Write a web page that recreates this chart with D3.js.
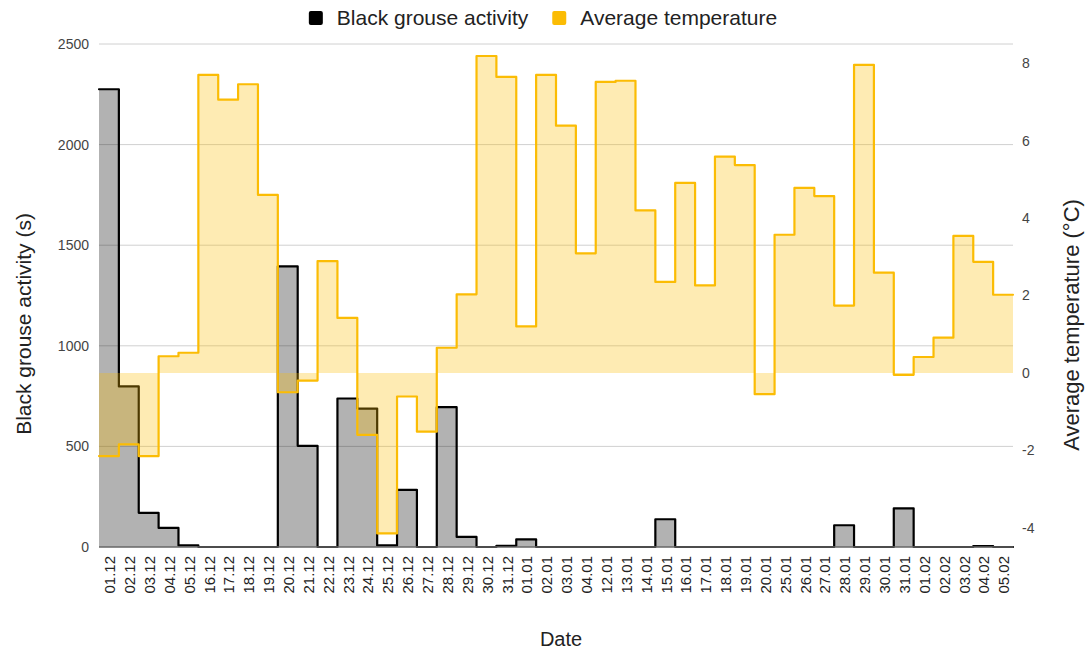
<!DOCTYPE html>
<html>
<head>
<meta charset="utf-8">
<script src="https://cdn.jsdelivr.net/npm/d3@7"></script>
<style>
  html, body { margin: 0; padding: 0; background: #fff; }
  svg { display: block; font-family: "Liberation Sans", Arial, Helvetica, sans-serif; }
</style>
</head>
<body>
<svg id="chart" width="1086" height="650"></svg>
<script>
// Sampling days (gaps in the record are simply skipped)
const dates = ['01.12','02.12','03.12','04.12','05.12','16.12','17.12','18.12','19.12','20.12',
  '21.12','22.12','23.12','24.12','25.12','26.12','27.12','28.12','29.12','30.12','31.12',
  '01.01','02.01','03.01','04.01','12.01','13.01','14.01','15.01','16.01','17.01','18.01',
  '19.01','20.01','25.01','26.01','27.01','28.01','29.01','30.01','31.01',
  '01.02','02.02','03.02','04.02','05.02'];

// Black grouse activity per day (seconds)
const activity = [2275, 798, 170, 95, 8, 0, 0, 0, 0, 1395,
  503, 0, 738, 688, 8, 284, 0, 695, 50, 0, 6,
  38, 0, 0, 0, 0, 0, 0, 138, 0, 0, 0,
  0, 0, 0, 0, 0, 108, 0, 0, 192,
  0, 0, 0, 4, 0];

// Average daily temperature (°C)
const temperature = [-2.15, -1.85, -2.15, 0.43, 0.52, 7.7, 7.06, 7.46, 4.6, -0.5,
  -0.2, 2.89, 1.42, -1.6, -4.15, -0.61, -1.52, 0.65, 2.03, 8.19, 7.65,
  1.2, 7.7, 6.39, 3.09, 7.52, 7.55, 4.2, 2.35, 4.91, 2.26, 5.59,
  5.37, -0.55, 3.57, 4.78, 4.57, 1.74, 7.96, 2.59, -0.05,
  0.41, 0.91, 3.54, 2.87, 2.02];

const activityTicks = [0, 500, 1000, 1500, 2000, 2500];
const temperatureTicks = [-4, -2, 0, 2, 4, 6, 8];

const seriesNames = ['Black grouse activity', 'Average temperature'];
const seriesColors = ['#000000', '#fbbc04'];

const svg = d3.select('#chart');
const plot = { left: 99, right: 1013, top: 44, bottom: 547 };

const x = d3.scaleBand().domain(dates).range([plot.left, plot.right]).padding(0);
const yLeft = d3.scaleLinear().domain([0, 2500]).range([plot.bottom, plot.top]);
const yRight = d3.scaleLinear().domain([-4.5, 8.5]).range([plot.bottom, plot.top]);

// gridlines from the activity axis
svg.append('g')
  .selectAll('line')
  .data(activityTicks.filter(d => d !== 0))
  .join('line')
  .attr('x1', plot.left).attr('x2', plot.right)
  .attr('y1', d => yLeft(d)).attr('y2', d => yLeft(d))
  .attr('stroke', '#d0d0d0').attr('stroke-width', 1);

// step points: each day spans its whole band, last day closes at the right edge
function stepPoints(values) {
  const pts = values.map((v, i) => ({ x: x(dates[i]), v }));
  pts.push({ x: x(dates[dates.length - 1]) + x.bandwidth(), v: values[values.length - 1] });
  return pts;
}

function drawSeries(values, yScale, color) {
  const pts = stepPoints(values);
  const area = d3.area()
    .curve(d3.curveStepAfter)
    .x(d => d.x)
    .y0(yScale(0))
    .y1(d => yScale(d.v));
  const line = d3.line()
    .curve(d3.curveStepAfter)
    .x(d => d.x)
    .y(d => yScale(d.v));
  svg.append('path').datum(pts)
    .attr('d', area)
    .attr('fill', color).attr('fill-opacity', 0.3);
  svg.append('path').datum(pts)
    .attr('d', line)
    .attr('fill', 'none')
    .attr('stroke', color).attr('stroke-width', 2.2)
    .attr('stroke-linejoin', 'round').attr('stroke-linecap', 'round');
}

drawSeries(activity, yLeft, seriesColors[0]);
drawSeries(temperature, yRight, seriesColors[1]);

// baseline
svg.append('line')
  .attr('x1', plot.left).attr('x2', plot.right)
  .attr('y1', plot.bottom).attr('y2', plot.bottom)
  .attr('stroke', '#666').attr('stroke-width', 1.5);

const plainNumber = d => String(d);

// left axis labels
const leftAxis = d3.axisLeft(yLeft).tickValues(activityTicks).tickFormat(plainNumber)
  .tickSize(0).tickPadding(10);
const gl = svg.append('g').attr('transform', `translate(${plot.left},0)`).call(leftAxis);
gl.select('.domain').remove();
gl.selectAll('text').attr('font-size', 14).attr('fill', '#444')
  .style('font-family', '"Liberation Sans", Arial, sans-serif');

// right axis labels
const rightAxis = d3.axisRight(yRight).tickValues(temperatureTicks).tickFormat(plainNumber)
  .tickSize(0).tickPadding(9);
const gr = svg.append('g').attr('transform', `translate(${plot.right},0)`).call(rightAxis);
gr.select('.domain').remove();
gr.selectAll('text').attr('font-size', 14).attr('fill', '#444')
  .style('font-family', '"Liberation Sans", Arial, sans-serif');

// date labels, rotated
svg.append('g')
  .selectAll('text')
  .data(dates)
  .join('text')
  .attr('transform', d => `translate(${x(d) + x.bandwidth() / 2 + 1},556) rotate(-90)`)
  .attr('text-anchor', 'end')
  .attr('dy', '0.35em')
  .attr('font-size', 15)
  .attr('fill', '#222')
  .text(d => d);

// axis titles
svg.append('text')
  .attr('transform', 'translate(31,324) rotate(-90)')
  .attr('text-anchor', 'middle')
  .attr('font-size', 21).attr('fill', '#222')
  .text('Black grouse activity (s)');

svg.append('text')
  .attr('transform', 'translate(1079,325) rotate(-90)')
  .attr('text-anchor', 'middle')
  .attr('font-size', 22).attr('fill', '#222')
  .text('Average temperature (°C)');

svg.append('text')
  .attr('x', 561).attr('y', 646)
  .attr('text-anchor', 'middle')
  .attr('font-size', 20).attr('fill', '#222')
  .text('Date');

// legend, centred above the plot
const legend = svg.append('g');
const items = legend.selectAll('g').data(seriesNames).join('g');
items.append('rect')
  .attr('width', 14).attr('height', 14).attr('rx', 2).attr('y', 11)
  .attr('fill', (d, i) => seriesColors[i]);
items.append('text')
  .attr('x', 28).attr('y', 18).attr('dy', '0.35em')
  .attr('font-size', 21).attr('fill', '#222')
  .text(d => d);
let offset = 0;
items.each(function () {
  const w = d3.select(this).select('text').node().getComputedTextLength();
  d3.select(this).attr('transform', `translate(${offset},0)`);
  offset += 28 + w + 24;
});
const total = offset - 24;
legend.attr('transform', `translate(${543 - total / 2},0)`);
</script>
</body>
</html>
